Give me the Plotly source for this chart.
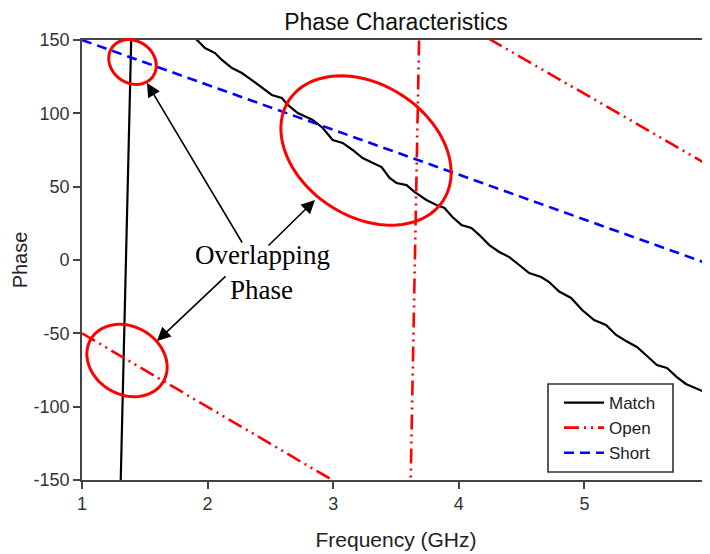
import math
import plotly.graph_objects as go

# ---------------- data ----------------
match_freq = [1.30, 1.40, 1.916, 1.979, 2.059, 2.114, 2.194, 2.273, 2.352, 2.432,
              2.511, 2.591, 2.639, 2.718, 2.837, 2.917, 2.996, 3.075, 3.155, 3.234,
              3.314, 3.385, 3.449, 3.504, 3.584, 3.647, 3.742, 3.822, 3.886, 3.949,
              4.021, 4.100, 4.164, 4.243, 4.322, 4.402, 4.481, 4.560, 4.656, 4.719,
              4.799, 4.894, 4.982, 5.077, 5.172, 5.252, 5.331, 5.418, 5.490, 5.577,
              5.657, 5.736, 5.808, 5.887, 5.975, 6.0]
match_phase = [-180, 180, 150, 144.5, 141.1, 136.4, 130.9, 127.5, 122.7, 117.3,
               112.5, 110.5, 105.7, 100.2, 95.5, 90.0, 81.8, 79.8, 75.0, 69.5,
               66.1, 63.4, 55.9, 52.5, 51.1, 46.4, 40.9, 37.5, 35.5, 29.3,
               23.9, 21.8, 17.0, 10.2, 5.5, 2.0, -3.4, -8.9, -11.6, -15.0,
               -21.5, -25.9, -34.1, -40.9, -44.3, -51.1, -55.2, -59.3, -64.8, -71.6,
               -73.6, -79.8, -84.5, -87.3, -90.7, -92.0]

open_freq = [1.0, 3.61, 3.69, 6.0]
open_phase = [-50, -181, 178, 64]

short_freq = [1.0, 6.0]
short_phase = [150, -3]

x_ticks = [1, 2, 3, 4, 5, 6]
y_ticks = [-150, -100, -50, 0, 50, 100, 150]

# ---------------- layout helpers ----------------
# The page body has an 8px margin, so the figure sits at (8, 8) on the page.
OFF = 8
WW, HH = 702, 546
L, R, T, B = 74, 0, 32, 74
PW, PH = WW - L - R, HH - T - B
PL, PT = L + OFF, T + OFF  # plot-area origin in page pixels


def px(x):
    return (x - PL) / PW


def py(y):
    return (PT + PH - y) / PH


def ellipse_path(cx, cy, a, b, deg, n=90):
    th = math.radians(deg)
    parts = []
    for i in range(n + 1):
        t = 2 * math.pi * i / n
        x = cx + a * math.cos(t) * math.cos(th) - b * math.sin(t) * math.sin(th)
        y = cy + a * math.cos(t) * math.sin(th) + b * math.sin(t) * math.cos(th)
        parts.append(("M" if i == 0 else "L") + f"{px(x):.5f},{py(y):.5f}")
    return "".join(parts) + "Z"


SANS = "Liberation Sans, Arial, sans-serif"
SERIF = "Liberation Serif, Times New Roman, serif"

fig = go.Figure()
fig.add_trace(go.Scatter(x=match_freq, y=match_phase, mode="lines", name="Match",
                         line=dict(color="black", width=2.2), legendgroup="a"))
fig.add_trace(go.Scatter(x=open_freq, y=open_phase, mode="lines", name="Open",
                         line=dict(color="#ff0000", width=2.6,
                                   dash="15px,5px,2px,5px,2px,5px"), legendgroup="b"))
fig.add_trace(go.Scatter(x=short_freq, y=short_phase, mode="lines", name="Short",
                         line=dict(color="#0000ff", width=2.6, dash="10px,6px"),
                         legendgroup="c"))

shapes = []
# legend frame
shapes.append(dict(type="rect", xref="paper", yref="paper",
                   x0=px(548), x1=px(673), y0=py(472), y1=py(384),
                   line=dict(color="#333333", width=1.6), fillcolor="white",
                   layer="above"))
# red ellipses (page pixel geometry)
for (cx, cy, a, b, d) in [(132.5, 62, 25, 21, 35), (366, 150.5, 92, 66, 33),
                          (127, 360.5, 42, 34, 30)]:
    shapes.append(dict(type="path", xref="paper", yref="paper",
                       path=ellipse_path(cx, cy, a, b, d),
                       line=dict(color="#ff0000", width=3), layer="above"))

annotations = []
# arrows: (head_x, head_y, tail_x, tail_y) in page pixels
for (hx, hy, tx, ty) in [(147, 83, 243, 244), (315, 200, 267, 247), (157, 341, 227, 275)]:
    annotations.append(dict(xref="paper", yref="paper", x=px(hx), y=py(hy),
                            ax=tx - hx, ay=ty - hy, axref="pixel", ayref="pixel",
                            text="", showarrow=True, arrowhead=2, arrowsize=1.7,
                            arrowwidth=1.6, arrowcolor="black", standoff=0))
annotations.append(dict(xref="paper", yref="paper", x=px(262), y=py(255),
                        text="Overlapping", showarrow=False,
                        font=dict(family=SERIF, size=27, color="black"),
                        xanchor="center", yanchor="middle"))
annotations.append(dict(xref="paper", yref="paper", x=px(261), y=py(290),
                        text="Phase", showarrow=False,
                        font=dict(family=SERIF, size=27, color="black"),
                        xanchor="center", yanchor="middle"))

fig.update_layout(
    width=WW, height=HH,
    margin=dict(l=L, r=R, t=T, b=B, pad=0),
    paper_bgcolor="white", plot_bgcolor="white",
    title=dict(text="Phase Characteristics", x=0.5, xref="paper", xanchor="center",
               y=1 - (22 - OFF) / HH, yanchor="middle",
               font=dict(family=SANS, size=23, color="#111111")),
    xaxis=dict(range=[1, 6], tickvals=x_ticks, ticktext=[str(v) for v in x_ticks],
               showgrid=False, zeroline=False, showline=True, mirror=True,
               linecolor="#444444", linewidth=1.6, ticks="outside", ticklen=7,
               tickwidth=1.5, tickcolor="#444444",
               tickfont=dict(family=SANS, size=18, color="#333333"),
               title=dict(text="Frequency (GHz)", standoff=19,
                          font=dict(family=SANS, size=21, color="#222222"))),
    yaxis=dict(range=[-150, 150], tickvals=y_ticks, ticktext=[str(v) for v in y_ticks],
               showgrid=False, zeroline=False, showline=True, mirror=False,
               linecolor="#444444", linewidth=1.6, ticks="outside", ticklen=7,
               tickwidth=1.5, tickcolor="#444444",
               tickfont=dict(family=SANS, size=18, color="#333333"),
               title=dict(text="Phase", standoff=1,
                          font=dict(family=SANS, size=20, color="#222222"))),
    showlegend=True,
    legend=dict(x=px(559), y=py(428), xanchor="left", yanchor="middle",
                bgcolor="rgba(0,0,0,0)", borderwidth=0, itemwidth=40,
                tracegroupgap=0, traceorder="normal",
                font=dict(family=SANS, size=17, color="#222222")),
    shapes=shapes,
    annotations=annotations,
)

fig.write_html("out.html")
